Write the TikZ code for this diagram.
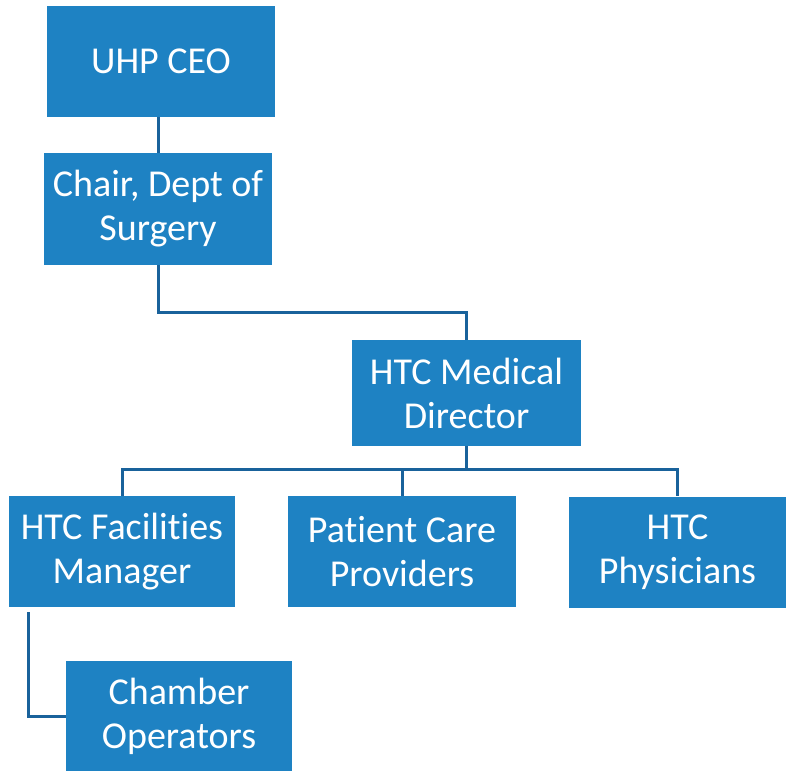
\documentclass[tikz,border=0pt]{standalone}
\usepackage{fontspec}
\setmainfont{Carlito}[Ligatures=NoCommon]
\usepackage{tikz}
\usetikzlibrary{positioning,calc}
\definecolor{boxblue}{RGB}{30,130,195}
\definecolor{lineblue}{RGB}{25,98,155}
\tikzset{
	orgbox/.style={rectangle, fill=boxblue, text=white, align=center, font=\fontsize{38}{44}\selectfont, inner sep=0pt},
	orgline/.style={draw=lineblue, line width=3pt}
}
\begin{document}
\begin{tikzpicture}[x=1pt,y=-1pt]
			\useasboundingbox (0,0) rectangle (786,771);
			\node[orgbox, minimum width=228pt, minimum height=111pt] (ceo) at (161,61.5){UHP CEO};
			\node[orgbox, minimum width=228pt, minimum height=112pt] (chair) at (158,209){Chair, Dept of\\Surgery};
			\node[orgbox, minimum width=229pt, minimum height=106pt] (director) at (466.5,393){HTC Medical\\Director};
			\node[orgbox, minimum width=226pt, minimum height=111pt] (facilities) at (122,551.5){HTC Facilities\\Manager};
			\node[orgbox, minimum width=228pt, minimum height=111pt] (patient) at (402,551.5){Patient Care\\Providers};
			\node[orgbox, minimum width=217pt, minimum height=111pt] (physicians) at (677.5,552){HTC\\Physicians};
			\node[orgbox, minimum width=226pt, minimum height=110pt] (chamber) at (179,716){Chamber\\Operators};
			\draw[orgline] (chair.north) -- (chair.north |- ceo.south);
			\draw[orgline] (chair.south) -- ++(0,47) -| (director.north);
			\draw[orgline] (director.south) -- ++(0,23) coordinate (bar);
			\draw[orgline] (bar) -| (facilities.north);
			\draw[orgline] (bar) -| (patient.north);
			\draw[orgline] (bar) -| (physicians.north);
			\draw[orgline] ($(facilities.south west)+(20,5)$) |- (chamber.west);
		\end{tikzpicture}
\end{document}
